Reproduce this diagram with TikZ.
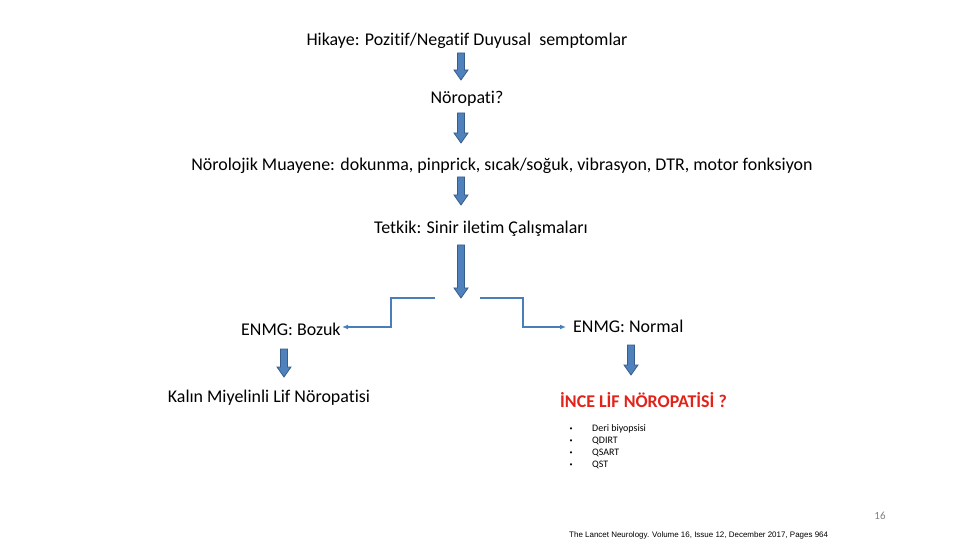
\documentclass[tikz,border=0pt]{standalone}
\usepackage{fontspec}
\usetikzlibrary{arrows.meta}
\setmainfont[Ligatures={NoCommon}]{Carlito}
\newfontfamily\citefont{Liberation Sans}
\definecolor{arrfill}{RGB}{79,129,189}
\definecolor{arrline}{RGB}{56,93,138}
\definecolor{conn}{RGB}{74,126,187}
\definecolor{redt}{RGB}{226,35,26}
\newcommand\barrow[3]{\filldraw[barrowst] (#1-3.5,#2) -- (#1+3.5,#2) -- (#1+3.5,#3-10) -- (#1+7,#3-10) -- (#1,#3) -- (#1-7,#3-10) -- (#1-3.5,#3-10) -- cycle;}
\begin{document}
\begin{tikzpicture}[x=1bp,y=-1bp,
  txt/.style={inner sep=0pt,font=\fontsize{18}{21}\selectfont},
  small/.style={inner sep=0pt,anchor=west,font=\fontsize{10}{12}\selectfont},
  bul/.style={inner sep=0pt,font=\fontsize{6}{7}\selectfont},
  barrowst/.style={fill=arrfill,draw=arrline,line width=0.8bp,line join=miter},
  connst/.style={draw=conn,line width=1.5bp,-{Latex[length=6bp,width=5bp]}}]
\useasboundingbox[fill=white] (0,0) rectangle (960,540);
\node[txt] (hik) at (467,41) {Hikaye: Pozitif/Negatif Duyusal\ \ semptomlar};
\node[txt] (nor) at (467,99) {Nöropati?};
\node[txt] (mua) at (502,166) {Nörolojik Muayene: dokunma, pinprick, sıcak/soğuk, vibrasyon, DTR, motor fonksiyon};
\node[txt] (tet) at (481,229) {Tetkik: Sinir iletim Çalışmaları};
\node[txt,anchor=west] (boz) at (241,329) {ENMG: Bozuk};
\node[txt,anchor=west] (nml) at (573,326) {ENMG: Normal};
\node[txt] (kal) at (269,398) {Kalın Miyelinli Lif Nöropatisi};
\node[txt,anchor=west,text=redt,font=\fontsize{18}{21}\selectfont\bfseries] (ince) at (560,400) {İNCE LİF NÖROPATİSİ ?};
\node[bul] (b1) at (571,429) {•};
\node[bul] (b2) at (571,441) {•};
\node[bul] (b3) at (571,453) {•};
\node[bul] (b4) at (571,465) {•};
\node[small] (t1) at (592,429) {Deri biyopsisi};
\node[small] (t2) at (592,441) {QDIRT};
\node[small] (t3) at (592,453) {QSART};
\node[small] (t4) at (592,465) {QST};
\node[inner sep=0pt,text=gray,font=\fontsize{11}{13}\selectfont] (pg) at (880,516) {16};
\node[inner sep=0pt,anchor=west,font=\citefont\fontsize{8}{9}\selectfont] (cite) at (569,535) {The Lancet Neurology. Volume 16, Issue 12, December 2017, Pages 964};
\barrow{461}{53}{80}
\barrow{461}{113}{143}
\barrow{461}{177}{205}
\barrow{461}{245}{298}
\barrow{284}{349}{377}
\barrow{631}{345}{375}
\coordinate (lc) at (435,298);
\coordinate (rc) at (480,298);
\coordinate (le) at (342,327);
\coordinate (re) at (566,327);
\draw[connst] (lc) -- (391,298) |- (le);
\draw[connst] (rc) -- (523,298) |- (re);
\end{tikzpicture}
\end{document}
